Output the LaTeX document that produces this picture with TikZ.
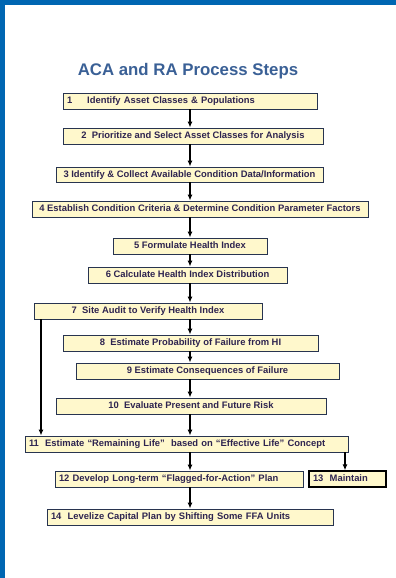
\documentclass[tikz,border=0pt]{standalone}
\usepackage{fontspec}
\setmainfont{Liberation Sans}
\usetikzlibrary{arrows.meta}
\definecolor{frameblue}{RGB}{0,102,178}
\definecolor{titleblue}{RGB}{58,96,150}
\definecolor{boxfill}{RGB}{255,248,204}
\definecolor{boxline}{RGB}{40,52,80}
\definecolor{boxtext}{RGB}{46,36,80}

\begin{document}
\begin{tikzpicture}[x=1pt,y=-1pt,%
  stepbox/.style={draw=boxline, fill=boxfill, line width=0.9pt, text=boxtext,
    font=\bfseries\fontsize{9.4}{10}\selectfont, minimum height=16pt,
    text height=6.8pt, text depth=1.8pt,
    inner xsep=4pt, inner ysep=0pt},
  leftbox/.style={stepbox, align=left},
  flow/.style={-{Latex[length=6pt,width=5pt]}, line width=1.5pt}]
  \useasboundingbox (0,0) rectangle (396,578);
  \fill[white] (0,0) rectangle (396,578);
  \fill[frameblue] (0,0) rectangle (396,5.5);
  \fill[frameblue] (0,0) rectangle (5,578);

  \node[text=titleblue, font=\bfseries\fontsize{16.8}{20}\selectfont] (title) at (188,71) {ACA and RA Process Steps};

  \coordinate (axis) at (190,0);
  \coordinate (side) at (41,0);
  \coordinate (aside) at (345,0);

  \node[leftbox, text width=246pt] (s1) at (190,101) {1\hspace{15pt}Identify Asset Classes \& Populations};
  \node[stepbox, minimum width=260pt] (s2) at (193,136) {2\ \ Prioritize and Select Asset Classes for Analysis};
  \node[stepbox, minimum width=267pt, minimum height=15pt] (s3) at (189.5,174.5) {3 Identify \& Collect Available Condition Data/Information};
  \node[stepbox, minimum width=336pt] (s4) at (200,209) {4 Establish Condition Criteria \& Determine Condition Parameter Factors};
  \node[stepbox, minimum width=154pt] (s5) at (190,246) {5 Formulate Health Index};
  \node[stepbox, minimum width=199pt] (s6) at (187.5,275) {6 Calculate Health Index Distribution};
  \node[stepbox, minimum width=228pt] (s7) at (148,311) {7\ \ Site Audit to Verify Health Index};
  \node[stepbox, minimum width=255pt] (s8) at (190.5,343) {8\ \ Estimate Probability of Failure from HI};
  \node[stepbox, minimum width=263pt] (s9) at (207.5,371) {9 Estimate Consequences of Failure};
  \node[stepbox, minimum width=270pt] (s10) at (191,406) {10\ \ Evaluate Present and Future Risk};
  \node[leftbox, text width=315pt] (s11) at (186.5,444) {11\ \ Estimate “Remaining Life”\ \ based on “Effective Life” Concept};
  \node[leftbox, text width=240pt] (s12) at (179,479) {12 Develop Long-term “Flagged-for-Action” Plan};
  \node[leftbox, text width=69pt, draw=black, line width=1.3pt] (s13) at (347.5,479) {13\ \ Maintain};
  \node[leftbox, text width=278pt] (s14) at (190,517) {14\ \ Levelize Capital Plan by Shifting Some FFA Units};

  \foreach \a/\b in {s1/s2,s2/s3,s3/s4,s4/s5,s5/s6,s6/s7,s7/s8,s8/s9,s9/s10,s10/s11,s11/s12,s12/s14}
    \draw[flow] (\a.south -| axis) -- (\b.north -| axis);
  \draw[flow] (s7.south -| side) -- (s11.north -| side);
  \draw[flow] (s11.south -| aside) -- (s13.north -| aside);
\end{tikzpicture}
\end{document}
